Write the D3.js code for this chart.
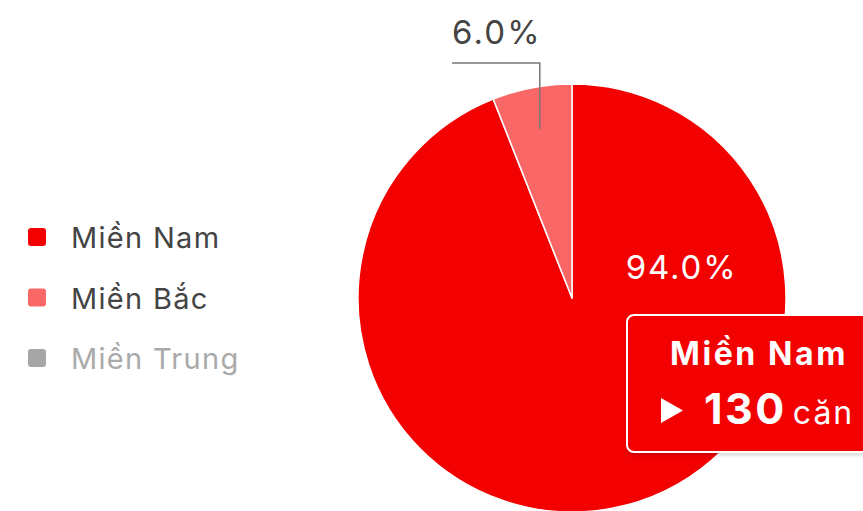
<!DOCTYPE html>
<html>
<head>
<meta charset="utf-8">
<script src="https://cdn.jsdelivr.net/npm/d3@7"></script>
<style>
  body { margin: 0; background: #fff; }
  svg { display: block; font-family: Inter, 'Noto Sans', sans-serif; }
</style>
</head>
<body>
<svg id="chart" width="863" height="511"></svg>
<script>
// data
var regions = ['Miền Nam', 'Miền Bắc', 'Miền Trung']
var shares = [94.0, 6.0, 0]
var counts = [130, 8, 0]
var colors = ['#f30000', '#f96767', '#a6a6a6']
var hidden = [false, false, true]
var unit = 'căn'

var width = 863, height = 511
var svg = d3.select('#chart')

var cx = 572, cy = 298, radius = 214

var slices = regions.map(function(r, i) { return {name: r, value: shares[i], count: counts[i], color: colors[i]} })
  .filter(function(d, i) { return !hidden[i] })

var pie = d3.pie().sort(null).value(function(d) { return d.value })
var arc = d3.arc().innerRadius(0).outerRadius(radius)
var arcs = pie(slices)

var g = svg.append('g').attr('transform', 'translate(' + cx + ',' + cy + ')')

g.selectAll('path.slice')
  .data(arcs)
  .enter().append('path')
  .attr('class', 'slice')
  .attr('d', arc)
  .attr('fill', function(d) { return d.data.color })
  .attr('stroke', '#fff')
  .attr('stroke-width', 1.5)
  .attr('stroke-linejoin', 'round')

// label for the large slice, inside
var innerLabel = d3.arc().innerRadius(114).outerRadius(114)
var big = arcs[0]
var pBig = innerLabel.centroid({startAngle: 74 * Math.PI / 180, endAngle: 74 * Math.PI / 180})
g.append('text')
  .attr('x', pBig[0]).attr('y', pBig[1] + 12)
  .attr('text-anchor', 'middle')
  .attr('fill', '#fff')
  .attr('font-size', 33)
  .attr('letter-spacing', 1.8)
  .text(d3.format('.1f')(big.data.value) + '%')

// label for the small slice, outside with elbow line
var small = arcs[1]
var lineArc = d3.arc().innerRadius(172).outerRadius(172)
var p0 = lineArc.centroid(small)
var elbowY = 63 - cy
var p2x = 452 - cx
g.append('polyline')
  .attr('points', [[p0[0], p0[1]], [p0[0], elbowY], [p2x, elbowY]].map(function(p) { return p.join(',') }).join(' '))
  .attr('fill', 'none')
  .attr('stroke', '#777')
  .attr('stroke-width', 1.5)
g.append('text')
  .attr('x', (p0[0] + p2x) / 2 + 1).attr('y', elbowY - 19)
  .attr('text-anchor', 'middle')
  .attr('fill', '#444')
  .attr('font-size', 33)
  .attr('letter-spacing', 2.2)
  .text(d3.format('.1f')(small.data.value) + '%')

// legend
var legend = svg.append('g').attr('transform', 'translate(28,237)')
var item = legend.selectAll('g.item')
  .data(regions)
  .enter().append('g')
  .attr('class', 'item')
  .attr('transform', function(d, i) { return 'translate(0,' + (i * 60.5) + ')' })
item.append('rect')
  .attr('x', 0).attr('y', -9)
  .attr('width', 18).attr('height', 18)
  .attr('rx', 3)
  .attr('fill', function(d, i) { return colors[i] })
item.append('text')
  .attr('x', 43).attr('y', 11)
  .attr('font-size', 29)
  .attr('letter-spacing', 1.3)
  .attr('fill', function(d, i) { return hidden[i] ? '#aaa' : '#444' })
  .text(function(d) { return d })

// tooltip
var defs = svg.append('defs')
var f = defs.append('filter').attr('id', 'shadow').attr('x', '-10%').attr('y', '-10%').attr('width', '130%').attr('height', '140%')
f.append('feDropShadow').attr('dx', 0).attr('dy', 3).attr('stdDeviation', 1.5).attr('flood-color', '#000').attr('flood-opacity', 0.12)

var tip = svg.append('g').attr('transform', 'translate(627,315)')
tip.append('rect')
  .attr('x', 0).attr('y', 0)
  .attr('width', 250).attr('height', 137)
  .attr('rx', 7)
  .attr('fill', colors[0])
  .attr('stroke', '#fff')
  .attr('stroke-width', 2)
  .attr('filter', 'url(#shadow)')
tip.append('text')
  .attr('x', 132).attr('y', 50)
  .attr('text-anchor', 'middle')
  .attr('fill', '#fff')
  .attr('font-size', 32)
  .attr('font-weight', 700)
  .attr('letter-spacing', 2.6)
  .text(regions[0])
tip.append('path')
  .attr('d', 'M34,83 L56,95.5 L34,108 Z')
  .attr('fill', '#fff')
var val = tip.append('text')
  .attr('x', 77).attr('y', 109)
  .attr('fill', '#fff')
val.append('tspan')
  .attr('font-size', 43)
  .attr('font-weight', 700)
  .attr('letter-spacing', 2.5)
  .text(counts[0])
val.append('tspan')
  .attr('dx', 6)
  .attr('font-size', 32)
  .attr('letter-spacing', 2)
  .text(unit)
</script>
</body>
</html>
